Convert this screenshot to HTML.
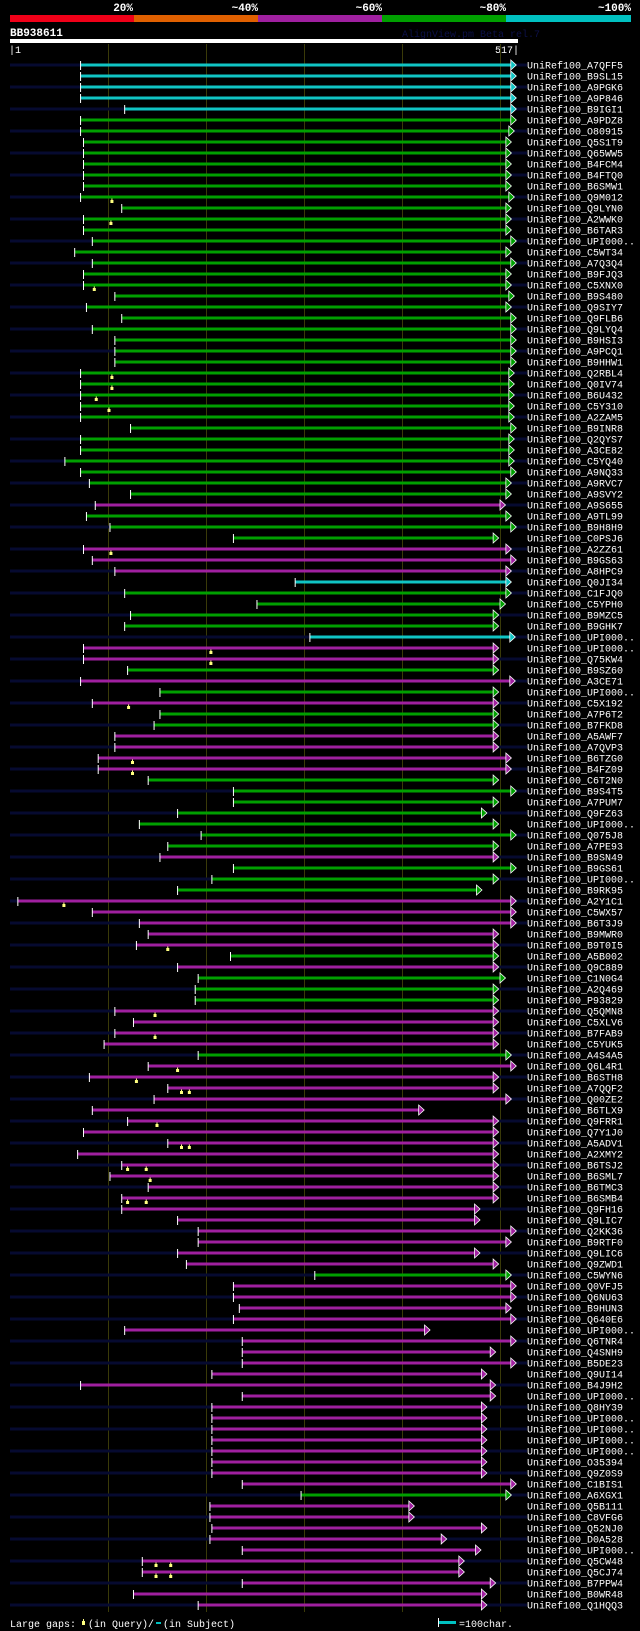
<!DOCTYPE html>
<html><head><meta charset="utf-8"><style>
html,body{margin:0;padding:0;background:#000;}
body{width:640px;height:1631px;overflow:hidden;}
svg{display:block;}
text{font-family:"Liberation Mono",monospace;}
</style></head><body>
<svg id="chart" width="640" height="1631" xmlns="http://www.w3.org/2000/svg">
<rect x="0" y="0" width="640" height="1631" fill="#000"/>
<g>
<rect x="10" y="15" width="124" height="7" fill="#f00018"/>
<rect x="134" y="15" width="124" height="7" fill="#e06000"/>
<rect x="258" y="15" width="124" height="7" fill="#a020a0"/>
<rect x="382" y="15" width="124" height="7" fill="#00a000"/>
<rect x="506" y="15" width="125" height="7" fill="#00c0c0"/>
<g font-size="11" font-weight="bold" fill="#fff" text-anchor="end">
<text x="133" y="11">20%</text>
<text x="258" y="11">~40%</text>
<text x="382" y="11">~60%</text>
<text x="506" y="11">~80%</text>
<text x="631" y="11">~100%</text>
</g></g>
<text x="10" y="36" font-size="11" font-weight="bold" fill="#fff">BB938611</text>
<text x="402" y="37" font-size="10" fill="#0c1048">AlignView.pm Beta rel.7</text>
<rect x="10" y="39" width="508" height="4" fill="#fff"/>
<text x="9" y="53" font-size="10" fill="#fff">|1</text>
<text x="519" y="53" font-size="10" fill="#fff" text-anchor="end">517|</text>
<g id="grid"></g>
<g id="rows"></g>
<g font-size="10" fill="#fff">
<text x="10" y="1627">Large gaps:</text>
<rect x="82" y="1621" width="3" height="4" fill="#ffff80"/>
<rect x="83" y="1619" width="1" height="2" fill="#ffff80"/>
<text x="88" y="1627">(in Query)/</text>
<rect x="156" y="1622" width="5" height="2" fill="#00c0c0"/>
<text x="163" y="1627">(in Subject)</text>
<rect x="438" y="1618" width="1" height="9" fill="#fff"/>
<rect x="439" y="1621" width="17" height="3" fill="#00c0c0"/>
<text x="459" y="1627">=100char.</text>
</g>
</svg>
<script>
const names = ["A7QFF5","B9SL15","A9PGK6","A9P846","B9IGI1","A9PDZ8","O80915","Q5S1T9","Q65WW5","B4FCM4","B4FTQ0","B6SMW1","Q9M012","Q9LYN0","A2WWK0","B6TAR3","UPI000..","C5WT34","A7Q3Q4","B9FJQ3","C5XNX0","B9S480","Q9SIY7","Q9FLB6","Q9LYQ4","B9HSI3","A9PCQ1","B9HHW1","Q2RBL4","Q0IV74","B6U432","C5Y310","A2ZAM5","B9INR8","Q2QYS7","A3CE82","C5YQ40","A9NQ33","A9RVC7","A9SVY2","A9S655","A9TL99","B9H8H9","C0PSJ6","A2ZZ61","B9GS63","A8HPC9","Q0JI34","C1FJQ0","C5YPH0","B9MZC5","B9GHK7","UPI000..","UPI000..","Q75KW4","B9SZ60","A3CE71","UPI000..","C5X192","A7P6T2","B7FKD8","A5AWF7","A7QVP3","B6TZG0","B4FZ09","C6T2N0","B9S4T5","A7PUM7","Q9FZ63","UPI000..","Q075J8","A7PE93","B9SN49","B9GS61","UPI000..","B9RK95","A2Y1C1","C5WX57","B6T3J9","B9MWR0","B9T0I5","A5B002","Q9C889","C1N0G4","A2Q469","P93829","Q5QMN8","C5XLV6","B7FAB9","C5YUK5","A4S4A5","Q6L4R1","B6STH8","A7QQF2","Q00ZE2","B6TLX9","Q9FRR1","Q7Y1J0","A5ADV1","A2XMY2","B6TSJ2","B6SML7","B6TMC3","B6SMB4","Q9FH16","Q9LIC7","Q2KK36","B9RTF0","Q9LIC6","Q9ZWD1","C5WYN6","Q0VFJ5","Q6NU63","B9HUN3","Q640E6","UPI000..","Q6TNR4","Q4SNH9","B5DE23","Q9UI14","B4J9H2","UPI000..","Q8HY39","UPI000..","UPI000..","UPI000..","UPI000..","O35394","Q9Z0S9","C1BIS1","A6XGX1","Q5B111","C8VFG6","Q52NJ0","D0A528","UPI000..","Q5CW48","Q5CJ74","B7PPW4","B0WR48","Q1HQQ3"];
const starts = [73,73,73,73,118,73,73,76,76,76,76,76,73,115,76,76,85,67,85,76,
76,108,79,115,85,108,108,108,73,73,73,73,73,124,73,73,57,73,82,124,
88,79,103,229,76,85,108,292,118,253,124,118,307,76,76,121,73,154,85,154,
148,108,108,91,91,142,229,229,172,133,196,162,154,229,207,172,9,85,133,142,
130,226,172,193,190,190,108,127,108,97,193,142,82,162,148,85,121,76,162,70,
115,103,142,115,115,172,193,193,172,181,312,229,229,235,229,118,238,238,238,207,
73,238,207,207,207,207,207,207,207,238,298,205,205,207,205,238,136,136,238,127,193];
const ends = [512,512,512,512,512,512,510,507,507,507,507,507,510,507,507,507,512,507,512,507,
507,510,507,512,512,512,512,512,510,510,510,510,510,512,510,510,510,512,507,507,
501,507,512,494,507,512,507,507,507,501,494,494,511,494,494,494,511,494,494,494,
494,494,494,507,507,494,512,494,482,494,512,494,494,512,494,477,512,512,512,494,
494,494,494,501,494,494,494,494,494,494,507,512,494,494,507,418,494,494,494,494,
494,494,494,494,475,475,512,507,475,494,507,512,512,507,512,424,512,491,512,482,
491,491,482,482,482,482,482,482,482,512,507,408,408,482,441,476,459,459,491,482,482];
const identity = "cccccgggggggggggggggggggggggggggggggggggmgggmmmcggggcmmgmgmggmmmmgggggggmgggmmmmmgmgggmmmmgmmmmmmmmmmmmmmmmmmmgmmmmmmmmmmmmmmmmmmmgmmmmmmmmmm";
const gapRows = [13,15,21,29,30,31,32,45,54,55,59,64,65,77,81,87,89,92,93,94,94,97,99,99,101,101,102,104,104,137,137,138,138];
const gapPos  = [105,104,87,105,105,89,102,104,206,206,122,126,126,56,162,149,149,172,130,176,184,151,176,184,121,140,144,121,140,150,165,150,165];
const gridTicks = [100,200,300,400,500];

const NS = "http://www.w3.org/2000/svg";
const colorMap = {c:"#10c4c4", g:"#00a000", m:"#a020a0"};
function xScale(p){ return 10 + (p - 1) * 0.98; }
function yScale(i){ return 65 + i * 11; }
function mk(tag, attrs){ const e = document.createElementNS(NS, tag); for (const k in attrs) e.setAttribute(k, attrs[k]); return e; }

const grid = document.getElementById('grid');
gridTicks.forEach(t => {
  const gx = Math.round(xScale(t) + 0.98) + 0.5;
  const l = mk('line', {x1:gx, x2:gx, y1:44, y2:1612, stroke:'#3a3a08', 'stroke-width':1});
  
  
  grid.appendChild(l);
});

const rows = document.getElementById('rows');
names.forEach((n, i) => {
  const y = yScale(i);
  const g = mk('g', {});
  
  
  if (i % 2 === 0) {
    const bg = mk('rect', {x:10, y:y - 1.5, width:517, height:3, fill:'#060a30'});
    
    
    g.appendChild(bg);
  }
  const x0 = xScale(starts[i]), x1 = xScale(ends[i]);
  const col = colorMap[identity[i]];
  const bar = mk('rect', {x:x0, y:y - 1.5, width:Math.max(0, x1 - x0), height:3, fill:col});
  
  
  g.appendChild(bar);
  const tk = mk('rect', {x:x0 - 0.5, y:y - 4, width:1, height:9, fill:'#fff'});
  
  
  g.appendChild(tk);
  const ar = mk('polygon', {points:(x1) + ',' + (y - 5) + ' ' + (x1 + 5.5) + ',' + y + ' ' + (x1) + ',' + (y + 5), fill:col, stroke:'#fff', 'stroke-width':0.8});
  
  
  g.appendChild(ar);
  const t = mk('text', {x:527, y:y + 3.5, 'font-size':10, fill:'#fff'});
  t.textContent = 'UniRef100_' + n;
  
  
  g.appendChild(t);
  rows.appendChild(g);
});
gapRows.forEach((r, k) => {
  const y = yScale(r - 1), x = xScale(gapPos[k]);
  const m = mk('rect', {x:x - 1.5, y:y + 3, width:3, height:3, fill:'#ffff80'});
  
  
  rows.appendChild(m);
  const s = mk('rect', {x:x - 0.5, y:y + 1.5, width:1, height:2, fill:'#ffff80'});
  
  
  rows.appendChild(s);
});
</script>
</body></html>
